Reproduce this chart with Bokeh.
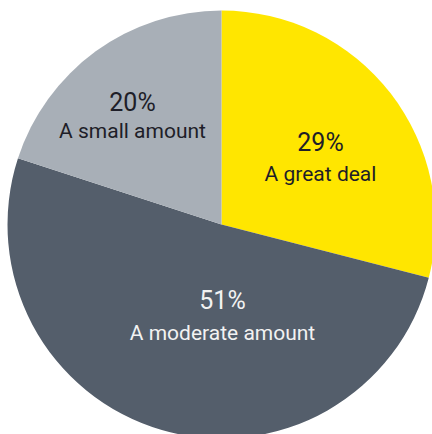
import math
from bokeh.plotting import figure
from bokeh.models import ColumnDataSource, Range1d
from bokeh.core.properties import value
from bokeh.embed import file_html
from bokeh.resources import INLINE

# Data
categories = ["A great deal", "A moderate amount", "A small amount"]
shares = [29, 51, 20]
pct_labels = ["29%", "51%", "20%"]
colors = ["#FFE600", "#545E6B", "#A8AFB7"]
text_colors = ["#1E1E28", "#F2F2F2", "#1E1E28"]

# label anchor points (data units, relative to pie centre)
label_x = [99, 1, -89]
pct_y = [82, -76, 122]
cat_y = [51, -108, 94]

R = 214

total = float(sum(shares))
starts, ends = [], []
cum = 0.0
for s in shares:
    starts.append(math.pi / 2 - 2 * math.pi * cum / total)
    cum += s
    ends.append(math.pi / 2 - 2 * math.pi * cum / total)

src = ColumnDataSource(dict(start=starts, end=ends, color=colors, cat=categories))
lab = ColumnDataSource(dict(x=label_x, py=pct_y, cy=cat_y, pct=pct_labels,
                            cat=categories, tc=text_colors))

p = figure(width=432, height=434, output_backend="svg", toolbar_location=None,
           x_range=Range1d(-221, 211), y_range=Range1d(-210, 224),
           min_border=0)
p.axis.visible = False
p.grid.visible = False
p.outline_line_color = None
p.background_fill_color = "white"
p.border_fill_color = "white"

p.wedge(x=0, y=0, radius=R, start_angle="start", end_angle="end",
        direction="clock", fill_color="color", line_color=None, source=src)

p.text(x="x", y="py", text="pct", text_color="tc", source=lab,
       text_font=value("Roboto"), text_font_size="25px",
       text_align="center", text_baseline="alphabetic")
p.text(x="x", y="cy", text="cat", text_color="tc", source=lab,
       text_font=value("Roboto"), text_font_size="21px",
       text_align="center", text_baseline="alphabetic")

open("out.html", "w").write(file_html(p, INLINE))
